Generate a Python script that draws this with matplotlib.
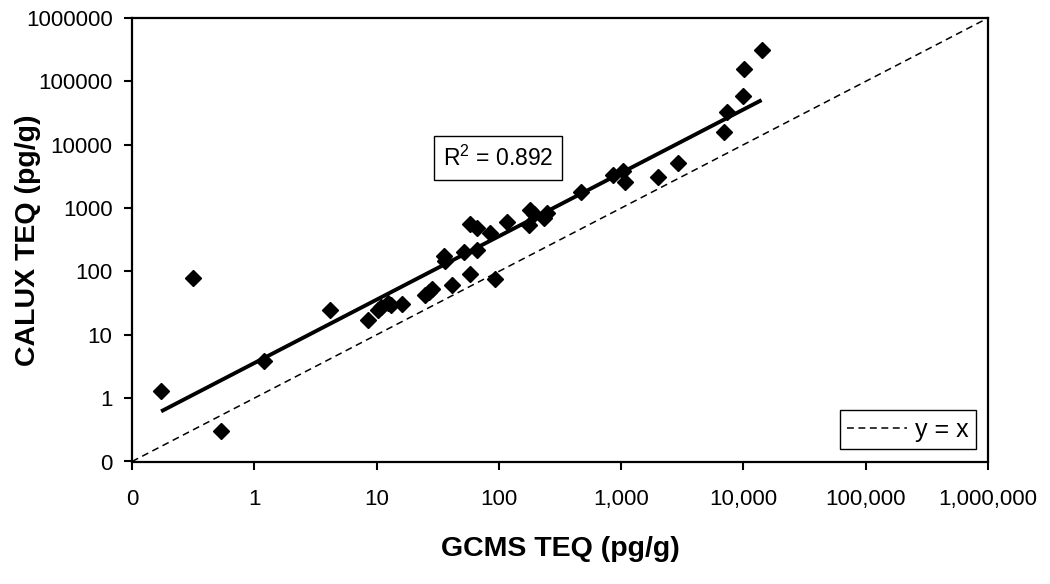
import matplotlib
matplotlib.use("Agg")
import matplotlib.pyplot as plt
import numpy as np

# GCMS TEQ vs CALUX TEQ (pg/g)
gcms = [0.173, 0.318, 0.53, 1.20, 4.18, 8.5, 10.3, 10.8, 12.5, 13.2, 16.2,
        25, 27, 28.4, 41.4, 57.7, 92.5, 35.8, 36, 51.5, 66, 58.5, 66, 85,
        117, 181, 178, 194, 233, 249, 467, 865, 1045, 1072, 1985, 2897,
        6995, 7320, 9950, 10200, 14070]
calux = [1.28, 78.7, 0.30, 3.9, 24.8, 17.0, 25, 27, 32, 29, 30.5,
         41.9, 47, 52, 60, 90, 75, 175, 145, 206, 218, 556, 492, 411,
         592, 927, 535, 800, 707, 830, 1766, 3350, 3880, 2540, 3120, 5080,
         16070, 33300, 58300, 157800, 315000]

tick_vals = [0.1, 1, 10, 100, 1000, 10000, 100000, 1000000]
x_tick_labels = ["0", "1", "10", "100", "1,000", "10,000", "100,000", "1,000,000"]
y_tick_labels = ["0", "1", "10", "100", "1000", "10000", "100000", "1000000"]
r2_text = r"R$^2$ = 0.892"

plt.rcParams['font.family'] = ['Liberation Sans', 'DejaVu Sans']
plt.rcParams['mathtext.default'] = 'regular'

fig = plt.figure(figsize=(10.5, 5.84), dpi=100)
ax = fig.add_axes([132 / 1050, 1 - 461.5 / 584, 856 / 1050, 443.5 / 584])

# y = x reference line across the whole plot
diag = [tick_vals[0], tick_vals[-1]]
ax.plot(diag, diag, color="black", lw=1.1, dashes=(4.5, 3), label="y = x")

# power trendline (least squares on logs)
lx, ly = np.log10(gcms), np.log10(calux)
b, a = np.polyfit(lx, ly, 1)
fx = np.array([min(gcms), max(gcms)])
ax.plot(fx, 10 ** a * fx ** b, color="black", lw=2.8, solid_capstyle="butt")

ax.plot(gcms, calux, linestyle="none", marker="D", ms=7.8, color="black")

ax.set_xscale("log")
ax.set_yscale("log")
ax.set_xlim(tick_vals[0], tick_vals[-1])
ax.set_ylim(tick_vals[0], tick_vals[-1])
ax.set_xticks(tick_vals)
ax.set_xticklabels(x_tick_labels)
ax.set_yticks(tick_vals)
ax.set_yticklabels(y_tick_labels)
ax.minorticks_off()
ax.tick_params(axis="x", length=6, width=1.5, pad=14, labelsize=16)
ax.tick_params(axis="y", length=6, width=1.5, pad=8, labelsize=16)
for s in ax.spines.values():
    s.set_linewidth(1.6)

ax.set_xlabel("GCMS TEQ (pg/g)", fontsize=20.5, fontweight="bold", va="top")
ax.xaxis.set_label_coords(0.5, -0.168)
ax.set_ylabel("CALUX TEQ (pg/g)", fontsize=20.5, fontweight="bold")
ax.yaxis.set_label_coords(-0.106, 0.5)

ax.text(0.4276, 0.684, r2_text, transform=ax.transAxes, fontsize=16.5,
        ha="center", va="center",
        bbox=dict(boxstyle="square,pad=0.4", fc="white", ec="black", lw=1))

leg = ax.legend(loc="lower right", bbox_to_anchor=(0.986, 0.028),
                borderaxespad=0, fontsize=18, handlelength=2.4,
                handletextpad=0.3, fancybox=False, framealpha=1,
                edgecolor="black", borderpad=0.3)
leg.get_frame().set_linewidth(1)

fig.savefig("out.png", dpi=100)
